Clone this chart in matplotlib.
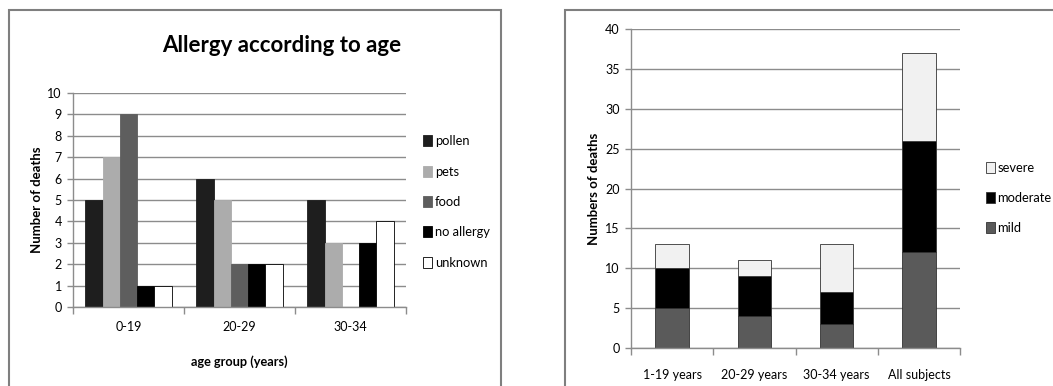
import numpy as np
import matplotlib
matplotlib.use("Agg")
import matplotlib.pyplot as plt
from matplotlib.patches import Rectangle

plt.rcParams['font.family'] = ['Lato', 'DejaVu Sans']

# left chart: allergy type by age group
age_groups = ['0-19', '20-29', '30-34']
allergy_types = ['pollen', 'pets', 'food', 'no allergy', 'unknown']
pollen = [5, 6, 5]
pets = [7, 5, 3]
food = [9, 2, 0]
no_allergy = [1, 2, 3]
unknown = [1, 2, 4]

# right chart: severity by age group (stacked)
severity_groups = ['1-19 years', '20-29 years', '30-34 years', 'All subjects']
mild = [5, 4, 3, 12]
moderate = [5, 5, 4, 14]
severe = [3, 2, 6, 11]

W, H = 1053, 386
fig = plt.figure(figsize=(W / 100, H / 100), dpi=100)

def px_axes(x0, y0, x1, y1):
    # axes box given in pixel coords (top-left origin)
    return fig.add_axes([x0 / W, 1 - y1 / H, (x1 - x0) / W, (y1 - y0) / H])

GRID = '#8c8c8c'
TICK_FS = 9
LEG_FS = 9.3

def style_axes(ax, ncat, ymax, ystep):
    ax.set_xlim(-0.5, ncat - 0.5)
    ax.set_ylim(0, ymax)
    ax.set_yticks(np.arange(0, ymax + 0.1, ystep))
    ax.set_xticks(np.arange(-0.5, ncat, 1.0))
    ax.set_xticklabels([])
    ax.set_xticks(np.arange(ncat), minor=True)
    ax.tick_params(axis='x', which='major', length=5, color=GRID, width=1)
    ax.tick_params(axis='x', which='minor', length=0, pad=10, labelsize=TICK_FS)
    ax.tick_params(axis='y', length=4, color=GRID, width=1, labelsize=TICK_FS, pad=4)
    ax.yaxis.grid(True, color=GRID, linewidth=1)
    ax.set_axisbelow(True)
    for s in ('top', 'right'):
        ax.spines[s].set_visible(False)
    for s in ('left', 'bottom'):
        ax.spines[s].set_color(GRID)
        ax.spines[s].set_linewidth(1)

# panel frames
fig.patches.append(Rectangle((9 / W, -0.1), (501 - 9) / W, 1.1 - 10 / H,
                             transform=fig.transFigure, fill=False,
                             edgecolor='#7f7f7f', linewidth=1.5))
fig.patches.append(Rectangle((565 / W, -0.1), 0.5, 1.1 - 9.5 / H,
                             transform=fig.transFigure, fill=False,
                             edgecolor='#7f7f7f', linewidth=1.5))

# ---- left: grouped bars
ax1 = px_axes(73, 93, 406, 307)
style_axes(ax1, len(age_groups), 10, 1)
ax1.set_xticklabels(age_groups, minor=True)
series = [pollen, pets, food, no_allergy, unknown]
colors = ['#1e1e1e', '#acacac', '#5e5e5e', '#000000', '#ffffff']
edges = ['#1e1e1e', '#acacac', '#5e5e5e', '#000000', '#000000']
bw = 0.155
x = np.arange(len(age_groups))
handles = []
for i, (vals, c, e) in enumerate(zip(series, colors, edges)):
    b = ax1.bar(x + (i - 2) * bw, vals, bw, color=c, edgecolor=e,
                linewidth=0.6, label=allergy_types[i])
    handles.append(b)
ax1.set_ylabel('Number of deaths', fontsize=9.5, fontweight='bold', labelpad=3)
ax1.set_xlabel('age group (years)', fontsize=9.2, fontweight='bold', labelpad=16)
fig.text(282 / W, 1 - 45 / H, 'Allergy according to age', fontsize=16,
         fontweight='bold', ha='center', va='center')
ax1.legend(handles=handles, loc='center left', bbox_to_anchor=(423 / W, 1 - 202 / H),
           bbox_transform=fig.transFigure, frameon=False, fontsize=LEG_FS,
           handlelength=0.7, handleheight=0.95, handletextpad=0.2,
           labelspacing=1.42, borderpad=0, borderaxespad=0)

# ---- right: stacked bars
ax2 = px_axes(631, 29, 960, 348)
style_axes(ax2, len(severity_groups), 40, 5)
ax2.set_xticklabels(severity_groups, minor=True)
ax2.tick_params(axis='x', which='minor', pad=15)
x2 = np.arange(len(severity_groups))
bw2 = 0.41
b_mild = ax2.bar(x2, mild, bw2, color='#5a5a5a', edgecolor='#333333',
                 linewidth=0.6, label='mild')
b_mod = ax2.bar(x2, moderate, bw2, bottom=mild, color='#000000',
                edgecolor='#333333', linewidth=0.6, label='moderate')
b_sev = ax2.bar(x2, severe, bw2, bottom=np.add(mild, moderate), color='#f1f1f1',
                edgecolor='#333333', linewidth=0.6, label='severe')
ax2.set_ylabel('Numbers of deaths', fontsize=9.5, fontweight='bold', labelpad=4)
ax2.legend(handles=[b_sev, b_mod, b_mild], loc='center left',
           bbox_to_anchor=(986 / W, 1 - 198 / H), bbox_transform=fig.transFigure,
           frameon=False, fontsize=LEG_FS, handlelength=0.7, handleheight=0.95,
           handletextpad=0.2, labelspacing=1.42, borderpad=0, borderaxespad=0)

fig.savefig('out.png', dpi=100)
